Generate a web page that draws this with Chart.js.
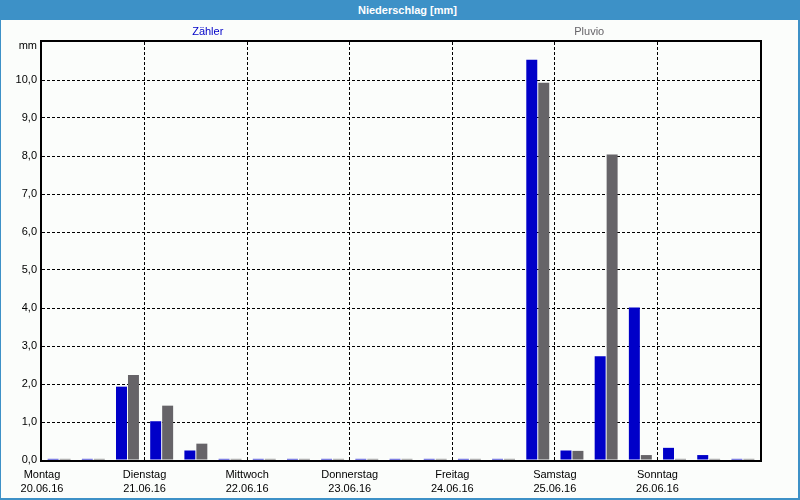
<!DOCTYPE html>
<html>
<head>
<meta charset="utf-8">
<script src="https://cdn.jsdelivr.net/npm/chart.js@4/dist/chart.umd.min.js"></script>
<style>
  body { margin: 0; background: #fff; }
  #box {
    width: 800px; height: 500px; box-sizing: border-box;
    border-left: 1px solid #3d91c7; border-right: 2px solid #3d91c7; border-bottom: 2px solid #3d91c7;
    background: #fbfdfb; font-family: "Liberation Sans", Arial, sans-serif; font-size: 11px;
  }
  #title {
    height: 20px; line-height: 20px; background: #3d91c7; color: #fff;
    font-weight: bold; text-align: center; padding-left: 16px;
  }
  #wrap { position: relative; width: 797px; height: 478px; }
  #legend { position: absolute; top: 4px; left: 16px; right: 18px; display: flex; line-height: 14px; }
  #legend span { flex: 1; text-align: center; }
</style>
</head>
<body>
<div id="box">
  <div id="title">Niederschlag [mm]</div>
  <div id="wrap">
    <div id="legend"></div>
    <canvas id="myChart"></canvas>
  </div>
</div>
<script>
const days = ["Montag", "Dienstag", "Mittwoch", "Donnerstag", "Freitag", "Samstag", "Sonntag"];
const dates = ["20.06.16", "21.06.16", "22.06.16", "23.06.16", "24.06.16", "25.06.16", "26.06.16"];
const periodHours = 8; // 3 Werte pro Tag
const unit = "mm";
const yMax = 11;

// Niederschlag je 8h, Zähler und Pluvio
const zaehler = [
  0.03, 0.03, 1.93,
  1.02, 0.25, 0.03,
  0.03, 0.03, 0.03,
  0.03, 0.03, 0.03,
  0.03, 0.03, 10.53,
  0.25, 2.73, 4.01,
  0.32, 0.13, 0.03,
];
const pluvio = [
  0.03, 0.03, 2.24,
  1.43, 0.43, 0.03,
  0.03, 0.03, 0.03,
  0.03, 0.03, 0.03,
  0.03, 0.03, 9.93,
  0.24, 8.04, 0.13,
  0.03, 0.03, 0.03,
];

const toPoints = (arr) =>
  arr.map((v, i) => ({ x: i * periodHours + periodHours / 2, y: v }));

const fontFamily = '"Liberation Sans", Arial, sans-serif';
Chart.defaults.font.family = fontFamily;
Chart.defaults.font.size = 11;
Chart.defaults.color = "#000";

// Rahmen um die Zeichenfläche und Einheit oben links
const frame = {
  id: "frame",
  beforeDatasetsDraw(chart) {
    const { ctx, chartArea: a } = chart;
    ctx.save();
    ctx.strokeStyle = "#000";
    ctx.lineWidth = 2;
    ctx.strokeRect(a.left - 1, a.top - 1, a.right - a.left + 2, a.bottom - a.top + 2);
    ctx.fillStyle = "#000";
    ctx.font = "11px " + fontFamily;
    ctx.textAlign = "right";
    ctx.textBaseline = "middle";
    ctx.fillText(unit, a.left - 5, a.top + 4);
    ctx.restore();
  },
};

// gestrichelte Linien, außer am Rand
const gridColor = (ctx) => {
  const s = ctx.scale;
  return ctx.tick && (ctx.tick.value === s.min || ctx.tick.value === s.max) ? "rgba(0,0,0,0)" : "#000";
};

const data = {
  datasets: [
    {
      label: "Zähler",
      backgroundColor: "rgb(0, 0, 200)",
      data: toPoints(zaehler),
    },
    {
      label: "Pluvio",
      backgroundColor: "rgb(102, 100, 104)",
      data: toPoints(pluvio),
    },
  ],
};

const config = {
  type: "bar",
  data: data,
  options: {
    responsive: true,
    maintainAspectRatio: false,
    animation: false,
    layout: { padding: { top: 22, right: 38, left: 0, bottom: 0 } },
    datasets: {
      bar: {
        categoryPercentage: 0.7,
        barPercentage: 0.917,
        borderWidth: 0,
        inflateAmount: 0,
      },
    },
    plugins: {
      legend: { display: false },
      tooltip: { enabled: false },
    },
    scales: {
      x: {
        type: "linear",
        offset: false,
        min: 0,
        max: days.length * 24,
        afterFit: (s) => { s.height = 38; },
        grid: { color: gridColor, lineWidth: 1, drawTicks: false, offset: false },
        border: { display: false, dash: [3, 2] },
        ticks: {
          stepSize: 24,
          padding: 8,
          maxRotation: 0,
          autoSkip: false,
          font: { lineHeight: 1.27 },
          callback: (v) => {
            const d = v / 24;
            return d < days.length ? [days[d], dates[d]] : "";
          },
        },
      },
      y: {
        min: 0,
        max: yMax,
        afterFit: (s) => { s.width = 41; },
        grid: { color: gridColor, lineWidth: 1, drawTicks: false },
        border: { display: false, dash: [3, 2] },
        ticks: {
          stepSize: 1,
          padding: 5,
          callback: (v) => (v >= yMax ? "" : v.toFixed(1).replace(".", ",")),
        },
      },
    },
  },
  plugins: [frame],
};

const legend = document.getElementById("legend");
data.datasets.forEach((ds) => {
  const s = document.createElement("span");
  s.textContent = ds.label;
  s.style.color = ds.backgroundColor;
  legend.appendChild(s);
});

const myChart = new Chart(document.getElementById("myChart"), config);
</script>
</body>
</html>
